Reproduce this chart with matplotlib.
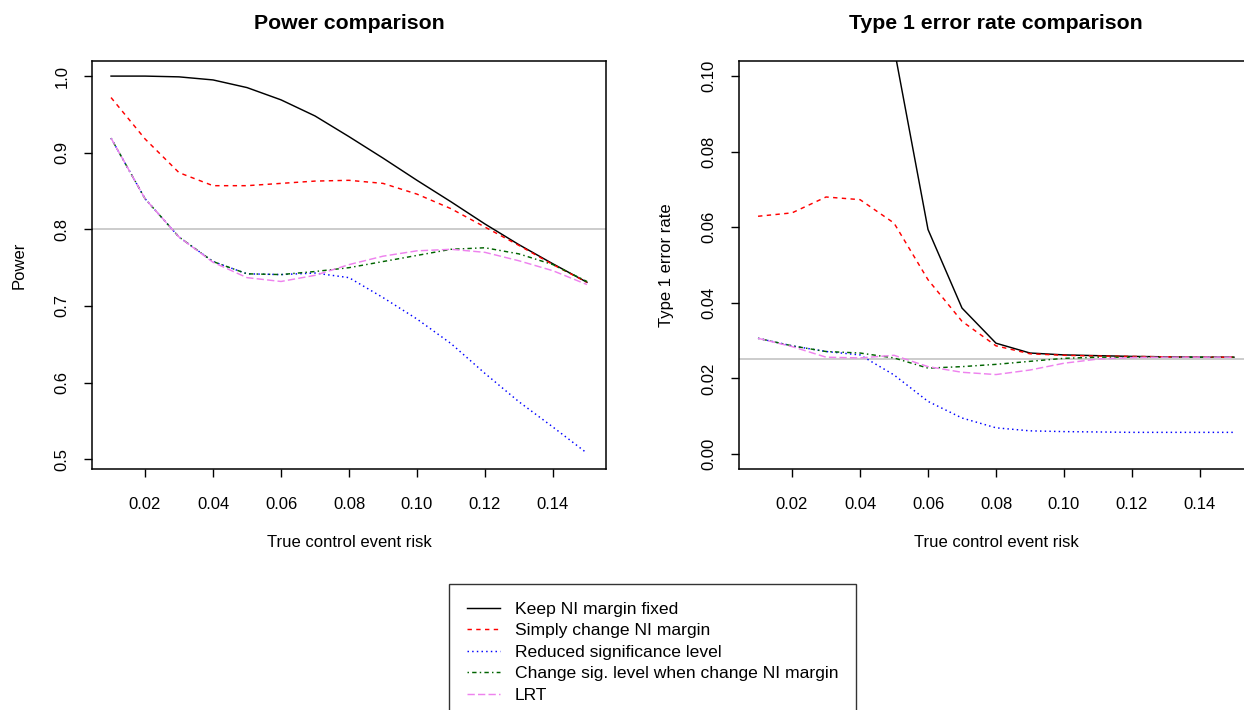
import numpy as np
import matplotlib
matplotlib.use("Agg")
import matplotlib.pyplot as plt

plt.rcParams["font.family"] = ["Liberation Sans", "DejaVu Sans"]

# true control event risk
risk = [0.01, 0.02, 0.03, 0.04, 0.05, 0.06, 0.07, 0.08,
        0.09, 0.10, 0.11, 0.12, 0.13, 0.14, 0.15]

# power
power_keep = [1.000, 1.000, 0.999, 0.995, 0.985, 0.969, 0.948, 0.921,
              0.893, 0.864, 0.836, 0.807, 0.780, 0.755, 0.731]
power_simple = [0.972, 0.918, 0.874, 0.857, 0.857, 0.860, 0.863, 0.864,
                0.860, 0.846, 0.827, 0.803, 0.779, 0.754, 0.731]
power_reduced = [0.919, 0.840, 0.790, 0.758, 0.742, 0.741, 0.743, 0.737,
                 0.711, 0.683, 0.651, 0.612, 0.575, 0.542, 0.508]
power_change = [0.919, 0.840, 0.790, 0.758, 0.742, 0.741, 0.745, 0.750,
                0.758, 0.766, 0.774, 0.776, 0.768, 0.754, 0.732]
power_lrt = [0.919, 0.840, 0.790, 0.757, 0.737, 0.732, 0.740, 0.754,
             0.765, 0.772, 0.774, 0.770, 0.759, 0.746, 0.728]

# type 1 error (keep-margin values below 0.05 are off the chart)
t1_keep = [np.nan, np.nan, np.nan, np.nan, 0.1075, 0.0594, 0.0386, 0.0293,
           0.0267, 0.0262, 0.0260, 0.0258, 0.0257, 0.0256, 0.0256]
t1_simple = [0.0629, 0.0638, 0.0680, 0.0673, 0.0611, 0.0461, 0.0351, 0.0286,
             0.0265, 0.0261, 0.0259, 0.0258, 0.0257, 0.0256, 0.0256]
t1_reduced = [0.0306, 0.0286, 0.0271, 0.0262, 0.0209, 0.0139, 0.0095, 0.0069,
              0.0061, 0.0059, 0.0058, 0.0057, 0.0057, 0.0057, 0.0057]
t1_change = [0.0306, 0.0286, 0.0271, 0.0267, 0.0254, 0.0227, 0.0231, 0.0237,
             0.0245, 0.0253, 0.0256, 0.0256, 0.0256, 0.0256, 0.0256]
t1_lrt = [0.0306, 0.0284, 0.0256, 0.0254, 0.0261, 0.0231, 0.0216, 0.0210,
          0.0222, 0.0240, 0.0251, 0.0255, 0.0256, 0.0256, 0.0256]

labels = ["Keep NI margin fixed", "Simply change NI margin",
          "Reduced significance level",
          "Change sig. level when change NI margin", "LRT"]
colors = ["black", "red", "blue", "#006400", "#EE82EE"]
dashes = [(), (3, 3), (1, 2.2), (1, 2.2, 3, 2.2), (5, 2.2)]

fig = plt.figure(figsize=(12.44, 7.10), dpi=100)
ax1 = fig.add_axes([92 / 1244, 1 - 469 / 710, 514 / 1244, 408 / 710])
ax2 = fig.add_axes([739 / 1244, 1 - 469 / 710, 514 / 1244, 408 / 710])


def draw(ax, series, ref, ylim, yticks, title, ylabel):
    ax.axhline(ref, color="#bebebe", lw=1.1, zorder=1)
    for ys, c, d, lab in zip(series, colors, dashes, labels):
        line, = ax.plot(risk, ys, color=c, lw=1.05, label=lab)
        if d:
            line.set_dashes(d)
    ax.set_xlim(0.0044, 0.1556)
    ax.set_ylim(*ylim)
    ax.set_xticks([0.02, 0.04, 0.06, 0.08, 0.10, 0.12, 0.14])
    ax.set_xticklabels(["0.02", "0.04", "0.06", "0.08", "0.10", "0.12", "0.14"])
    ax.set_yticks(yticks)
    ax.set_yticklabels([f"{v:.2f}" if ylim[1] < 0.5 else f"{v:.1f}" for v in yticks],
                       rotation=90, va="center")
    ax.tick_params(length=6, width=1, labelsize=12)
    ax.tick_params(axis="x", pad=14)
    ax.tick_params(axis="y", pad=10)
    for s in ax.spines.values():
        s.set_linewidth(1.1)
    ax.set_title(title, fontsize=15.3, fontweight="bold", pad=23)
    ax.set_xlabel("True control event risk", fontsize=12, labelpad=17)
    ax.set_ylabel(ylabel, fontsize=12, labelpad=20)


draw(ax1, [power_keep, power_simple, power_reduced, power_change, power_lrt],
     0.8, (0.4873, 1.0197), [0.5, 0.6, 0.7, 0.8, 0.9, 1.0],
     "Power comparison", "Power")
draw(ax2, [t1_keep, t1_simple, t1_reduced, t1_change, t1_lrt],
     0.025, (-0.004, 0.104), [0.0, 0.02, 0.04, 0.06, 0.08, 0.10],
     "Type 1 error rate comparison", "Type 1 error rate")

handles, labs = ax1.get_legend_handles_labels()
leg = fig.legend(handles, labs, loc="upper left",
                 bbox_to_anchor=(449 / 1244, 1 - 584 / 710),
                 fontsize=12.6, frameon=True, fancybox=False,
                 edgecolor="black", handlelength=1.9, handletextpad=0.85,
                 labelspacing=0.36, borderpad=1.0, borderaxespad=0)
leg.get_frame().set_linewidth(1.0)

fig.savefig("out.png", dpi=100)
